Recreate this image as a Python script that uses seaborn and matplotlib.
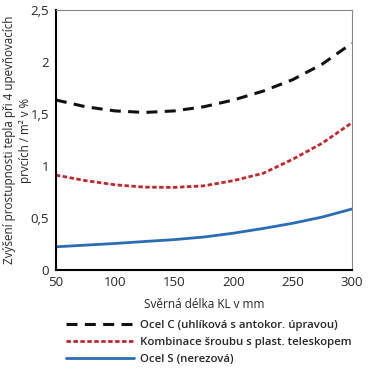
import matplotlib
matplotlib.use("Agg")
import matplotlib.pyplot as plt
import seaborn as sns
import pandas as pd

delka = [50, 75, 100, 125, 150, 175, 200, 225, 250, 275, 300]
ocel_c = [1.635, 1.57, 1.53, 1.515, 1.53, 1.57, 1.635, 1.72, 1.83, 1.98, 2.18]
kombinace = [0.913, 0.86, 0.82, 0.797, 0.795, 0.81, 0.86, 0.93, 1.065, 1.22, 1.416]
ocel_s = [0.224, 0.24, 0.256, 0.275, 0.293, 0.318, 0.355, 0.40, 0.45, 0.51, 0.587]

nazvy = ["Ocel C (uhlíková s antokor. úpravou)",
         "Kombinace šroubu s plast. teleskopem",
         "Ocel S (nerezová)"]

sns.set_style("white")
plt.rcParams['font.family'] = ['Open Sans', 'DejaVu Sans']

fig = plt.figure(figsize=(3.7, 3.69), dpi=100)
ax = fig.add_axes([0.151, 0.268, 0.8, 0.705])

df = pd.DataFrame({"x": delka, "c": ocel_c, "k": kombinace, "s": ocel_s})
sns.lineplot(data=df, x="x", y="c", ax=ax, color="#111111", lw=2.2, label=nazvy[0])
sns.lineplot(data=df, x="x", y="k", ax=ax, color="#c1272d", lw=2.0, label=nazvy[1])
sns.lineplot(data=df, x="x", y="s", ax=ax, color="#2a6db5", lw=2.0, label=nazvy[2])
lines = ax.get_lines()
lines[0].set_dashes([3.6, 2.4])
lines[1].set_dashes([1.6, 0.9])

ax.set_xlim(50, 300)
ax.set_ylim(0, 2.5)
ax.set_xticks([50, 100, 150, 200, 250, 300])
ax.set_yticks([0, 0.5, 1, 1.5, 2, 2.5])
ax.set_yticklabels(["0", "0,5", "1", "1,5", "2", "2,5"])
ax.tick_params(labelsize=9.5, length=0)
ax.tick_params(axis="x", pad=4)
ax.tick_params(axis="y", pad=5)
ax.set_xlabel("Svěrná délka KL v mm", fontsize=8.5, labelpad=7)
ax.set_ylabel("Zvýšení prostupnosti tepla při 4 upevňovacích\nprvcích / m² v %",
              fontsize=8.4, linespacing=1.3)
ax.yaxis.set_label_coords(-0.08, 0.5)

for s in ["left", "bottom"]:
    ax.spines[s].set_color("black")
    ax.spines[s].set_linewidth(1.5)
for s in ["top", "right"]:
    ax.spines[s].set_color("#888888")
    ax.spines[s].set_linewidth(0.8)

h, l = ax.get_legend_handles_labels()
ax.get_legend().remove()
fig.legend(h, l, loc="upper left", bbox_to_anchor=(0.165, 0.146), frameon=False,
           handlelength=6.0, handletextpad=0.5, labelspacing=0.55,
           prop={"size": 8.2, "weight": "semibold"}, borderaxespad=0)

fig.savefig("out.png", dpi=100)
